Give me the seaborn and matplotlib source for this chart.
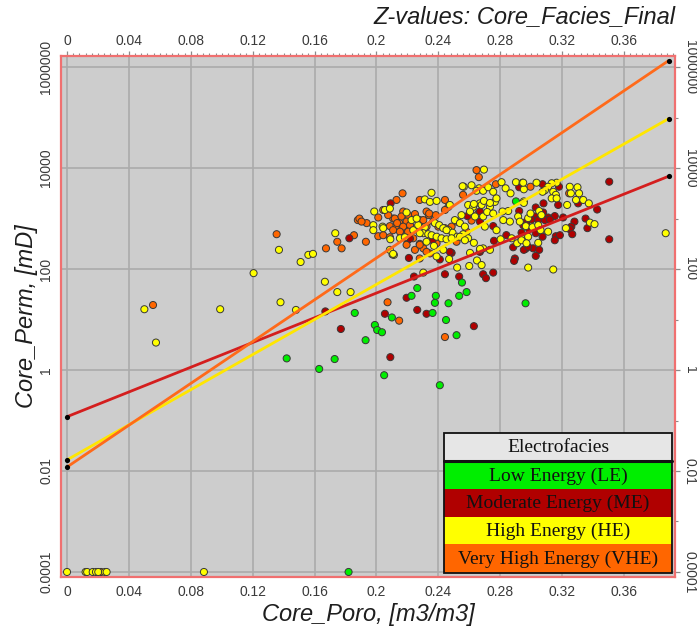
import numpy as np
import pandas as pd
import matplotlib
matplotlib.use("Agg")
import matplotlib.pyplot as plt
from matplotlib.patches import Rectangle
from matplotlib.ticker import FixedLocator, MultipleLocator, NullFormatter
import seaborn as sns

# ---------------- data: core porosity [m3/m3] and permeability [mD] by facies ----------------
le_poro = [0.142, 0.163, 0.173, 0.186, 0.193, 0.199, 0.2005, 0.2036, 0.205, 0.210,
           0.2227, 0.2264, 0.2363, 0.2378, 0.2384, 0.241, 0.245, 0.2466, 0.2518, 0.2535,
           0.2553, 0.2583, 0.2902, 0.2964, 0.182]
le_perm = [1.7, 1.05, 1.65, 13.5, 3.9, 7.8, 6.2, 5.6, 0.79, 11,
           29.5, 42, 13.5, 21.4, 29.5, 0.5, 9.8, 21, 4.9, 29.5,
           54, 35, 2190, 21, 0.0001]

me_poro = [0.167, 0.177, 0.2055, 0.209, 0.2195, 0.2264, 0.2324, 0.263, 0.221, 0.2243,
           0.241, 0.2443, 0.2486, 0.2535, 0.269, 0.2708, 0.2755, 0.2217, 0.1825, 0.2092,
           0.2475, 0.2588, 0.2669, 0.2669, 0.2755, 0.284, 0.276, 0.2884, 0.2964, 0.2938,
           0.2895, 0.289, 0.2953, 0.2669, 0.2923, 0.2923, 0.297, 0.2363,
           0.3505, 0.3505, 0.3427, 0.3352, 0.3364, 0.328, 0.326, 0.325, 0.3266, 0.3207,
           0.3304, 0.318, 0.3074, 0.3175, 0.308, 0.303,
           0.3024, 0.3078, 0.311, 0.3153, 0.297, 0.3003, 0.3046, 0.3089, 0.3121, 0.2949,
           0.2987, 0.303, 0.3074, 0.316, 0.3186, 0.3153, 0.3013, 0.3052, 0.303, 0.2981]
me_perm = [14.5, 6.5, 13, 1.8, 27, 15.5, 13, 7.4, 166, 71,
           155, 79, 209, 71, 79, 66, 85, 400, 407, 2000,
           219, 1120, 1380, 870, 710, 470, 363, 270, 251, 525,
           162, 145, 240, 219, 4170, 1410, 740, 372,
           5370, 389, 1510, 1000, 646, 870, 692, 617, 490, 1050,
           2000, 4270, 4790, 1860, 2000, 1660,
           1100, 1320, 1050, 1120, 870, 955, 933, 933, 955, 741,
           617, 513, 437, 447, 468, 372, 257, 240, 182, 275]

he_poro = [0.0, 0.012, 0.013, 0.0166, 0.0187, 0.0202, 0.0245, 0.0256, 0.0885,
           0.050, 0.0575, 0.099, 0.1206, 0.137, 0.138, 0.148, 0.151, 0.156, 0.159,
           0.1734, 0.1667, 0.1747, 0.1833, 0.387,
           0.1986, 0.2055, 0.2087, 0.198, 0.198, 0.204, 0.209, 0.2113, 0.2238, 0.227,
           0.2313, 0.2303, 0.2335, 0.2378, 0.2406, 0.2357, 0.2389, 0.2421, 0.2324, 0.2372,
           0.2432, 0.2466, 0.2492, 0.2522, 0.2561, 0.2507, 0.254, 0.2572, 0.2565, 0.2615,
           0.2664, 0.2593, 0.2625, 0.2669, 0.2605, 0.2637, 0.269, 0.2734, 0.2766, 0.2701,
           0.2776, 0.2593, 0.263, 0.269, 0.2669, 0.2734, 0.2605, 0.267, 0.2104, 0.2303,
           0.2522, 0.260, 0.265, 0.268, 0.247, 0.2356, 0.2313, 0.2346, 0.2389, 0.2475,
           0.263, 0.268, 0.2695, 0.2734, 0.2776, 0.2716, 0.2953, 0.2852, 0.2815, 0.2755,
           0.2695, 0.2557, 0.2647, 0.269, 0.2723, 0.2809, 0.2755, 0.2835, 0.2867, 0.2902,
           0.2945, 0.2953, 0.2195, 0.2227, 0.226, 0.2044, 0.2152, 0.2184, 0.2087, 0.228,
           0.2453, 0.2453, 0.2486, 0.254, 0.2572, 0.255, 0.2432, 0.2389, 0.2108, 0.282,
           0.2863, 0.2916, 0.2981, 0.2803, 0.2874, 0.291, 0.2938, 0.2981, 0.2981, 0.3143,
           0.325, 0.330, 0.3257, 0.331, 0.329, 0.3337, 0.3373, 0.338, 0.341, 0.3225,
           0.3233, 0.3165, 0.3133, 0.311, 0.3143, 0.316, 0.3035, 0.2949, 0.3089, 0.3074,
           0.3133, 0.3165, 0.2953, 0.2996, 0.3052, 0.3067, 0.2927, 0.2966, 0.3009, 0.3046,
           0.3061, 0.311, 0.2938, 0.297, 0.3046]
he_perm = [0.0001, 0.0001, 0.0001, 0.0001, 0.0001, 0.0001, 0.0001, 0.0001, 0.0001,
           16, 3.5, 16, 83, 240, 22, 15.5, 138, 191, 200,
           513, 56, 35, 35, 513,
           1380, 1480, 1580, 741, 589, 692, 389, 191, 589, 741,
           676, 513, 490, 813, 741, 468, 437, 407, 347, 288,
           646, 589, 525, 437, 490, 933, 813, 692, 4270, 4570,
           3980, 1860, 1700, 2000, 1380, 1100, 1100, 1700, 2140, 692,
           589, 407, 331, 257, 240, 240, 209, 251, 195, 85,
           107, 115, 148, 120, 158, 3240, 2400, 2140, 2240, 1860,
           1950, 1860, 2240, 2040, 2510, 1350, 2190, 1410, 1380, 1260,
           9330, 4370, 3550, 3550, 4170, 5250, 3390, 3980, 3160, 5250,
           5130, 3800, 1320, 933, 1000, 646, 407, 427, 240, 513,
           589, 389, 407, 437, 372, 1170, 240, 178, 200, 933,
           871, 1100, 1020, 389, 407, 324, 407, 437, 107, 98,
           4270, 4170, 3160, 3160, 2340, 2340, 2000, 832, 776, 646,
           1860, 5130, 5010, 4270, 3390, 2950, 5130, 5130, 3630, 3390,
           2510, 2510, 2040, 1260, 1410, 1170, 870, 708, 676, 741,
           589, 550, 372, 324, 331]

vhe_poro = [0.022, 0.0556, 0.1355, 0.1674, 0.1747, 0.1775, 0.1855, 0.1932, 0.188, 0.189,
            0.2072, 0.2147, 0.2443, 0.2169, 0.213, 0.228, 0.2443, 0.2465, 0.2173, 0.2205,
            0.2108, 0.214, 0.1937, 0.1904, 0.2012, 0.2087, 0.213, 0.2012, 0.2044, 0.2162,
            0.2195, 0.2147, 0.2178, 0.220, 0.2249, 0.228, 0.2324, 0.2339, 0.228, 0.2303,
            0.2346, 0.2384, 0.2443, 0.256, 0.2647, 0.2662, 0.2772, 0.2044, 0.2076, 0.2119,
            0.2162, 0.2195, 0.2134, 0.2173, 0.2217, 0.2108, 0.2152, 0.2205, 0.2087, 0.2205,
            0.2238, 0.2195, 0.2249, 0.228, 0.2303, 0.2341, 0.2324, 0.2367, 0.240, 0.2443,
            0.2486, 0.2518, 0.2583, 0.2615, 0.2658, 0.2518, 0.2389, 0.2324, 0.228, 0.2996,
            0.3246]
vhe_perm = [0.0001, 19.4, 490, 257, 347, 257, 468, 347, 933, 1000,
            22, 9.5, 4.5, 3160, 2340, 2340, 2340, 1700, 1380, 1170,
            1000, 933, 813, 871, 1050, 708, 708, 447, 468, 589,
            646, 832, 437, 372, 1230, 933, 1380, 1170, 316, 257,
            204, 1170, 1480, 2950, 9120, 6610, 4790, 1480, 1170, 1000,
            1100, 871, 813, 692, 741, 589, 550, 550, 427, 389,
            407, 302, 240, 302, 933, 1260, 692, 871, 692, 646,
            692, 871, 550, 912, 1260, 347, 324, 219, 162, 4270,
            3160]

# Per-facies exponential fits (perm at the two porosity end points)
fit_poro = [0.0, 0.389]
fit_me = [0.119, 6900]
fit_he = [0.0166, 95500]
fit_vhe = [0.012, 1350000]

facies_names = ["Low Energy (LE)", "Moderate Energy (ME)", "High Energy (HE)", "Very High Energy (VHE)"]
facies_colors = ["#00EE00", "#B00000", "#FFFF00", "#FF6600"]
line_colors = {"ME": "#D41E1E", "HE": "#FFE600", "VHE": "#FF6A1A"}

x_ticks = [0, 0.04, 0.08, 0.12, 0.16, 0.2, 0.24, 0.28, 0.32, 0.36]
x_labels = ["0", "0.04", "0.08", "0.12", "0.16", "0.2", "0.24", "0.28", "0.32", "0.36"]
y_ticks = [1e-4, 1e-2, 1, 1e2, 1e4, 1e6]
y_labels = ["0.0001", "0.01", "1", "100", "10000", "1000000"]

df = pd.concat([
    pd.DataFrame({"poro": vhe_poro, "perm": vhe_perm, "facies": "VHE"}),
    pd.DataFrame({"poro": me_poro, "perm": me_perm, "facies": "ME"}),
    pd.DataFrame({"poro": he_poro, "perm": he_perm, "facies": "HE"}),
    pd.DataFrame({"poro": le_poro, "perm": le_perm, "facies": "LE"}),
], ignore_index=True)
palette = {"LE": facies_colors[0], "ME": facies_colors[1], "HE": facies_colors[2], "VHE": facies_colors[3]}

# ---------------- figure ----------------
sns.set_style("white")
plt.rcParams["font.family"] = ["Liberation Sans", "DejaVu Sans"]

fig = plt.figure(figsize=(6.97, 6.27), dpi=100)
ax = fig.add_axes([0.0875, 0.0797, 0.8809, 0.8310])
ax.set_facecolor("#CDCDCD")

sns.scatterplot(data=df, x="poro", y="perm", hue="facies", palette=palette,
                s=26, edgecolor="#383838", linewidth=0.7, legend=False, ax=ax, zorder=3)

for key, vals in (("ME", fit_me), ("HE", fit_he), ("VHE", fit_vhe)):
    ax.plot(fit_poro, vals, color=line_colors[key], lw=2.0, zorder=4, solid_capstyle="butt")
    ax.scatter(fit_poro, vals, s=14, color="black", zorder=5, linewidths=0)

ax.set_yscale("log")
ax.set_xlim(-0.0039, 0.393)
ax.set_ylim(10 ** -4.1, 10 ** 6.22)

ax.set_xticks(x_ticks, x_labels)
ax.xaxis.set_minor_locator(MultipleLocator(0.004))
ax.set_yticks(y_ticks, y_labels)
ax.yaxis.set_minor_locator(FixedLocator([1e-3, 1e-1, 10, 1e3, 1e5]))
ax.yaxis.set_minor_formatter(NullFormatter())

ax.grid(True, which="major", color="#ABABAB", lw=1.2, zorder=0)
ax.set_axisbelow(True)

ax.tick_params(which="both", top=True, right=True, labeltop=True, labelright=True,
               direction="out", color="#8A8A8A", labelcolor="#3A3A3A", labelsize=10)
ax.tick_params(which="major", length=3.5, width=0.9, pad=2)
ax.tick_params(which="minor", length=2.2, width=0.8)

for t in ax.yaxis.get_major_ticks():
    t.label1.set_rotation(90)
    t.label1.set_va("center")
    t.label2.set_rotation(-90)
    t.label2.set_va("center")

for s in ax.spines.values():
    s.set_color("#F07070")
    s.set_linewidth(1.6)

ax.set_xlabel("Core_Poro, [m3/m3]", fontsize=17, fontstyle="italic", color="#1E1E1E", labelpad=3)
ax.set_ylabel("Core_Perm, [mD]", fontsize=17, fontstyle="italic", color="#1E1E1E", labelpad=1)
fig.text(0.9684, 1 - 17 / 627, "Z-values: Core_Facies_Final", ha="right", va="center",
         fontsize=17, fontstyle="italic", color="#1E1E1E")

# ---------------- facies key drawn as a table ----------------
tx0, tx1 = 0.6243, 0.9946
edges = [0.277, 0.2226, 0.1695, 0.1157, 0.0633, 0.0083]
cells = [("Electrofacies", "#E6E6E6")] + list(zip(facies_names, facies_colors))
for i, (label, col) in enumerate(cells):
    top, bot = edges[i], edges[i + 1]
    ax.add_patch(Rectangle((tx0, bot), tx1 - tx0, top - bot, transform=ax.transAxes,
                           facecolor=col, edgecolor="none", zorder=10, clip_on=False))
    ax.text((tx0 + tx1) / 2, (top + bot) / 2 - 0.002, label, transform=ax.transAxes,
            ha="center", va="center", fontsize=14, family="Liberation Serif",
            color="#111111", zorder=11)
ax.add_patch(Rectangle((tx0, edges[-1]), tx1 - tx0, edges[0] - edges[-1], transform=ax.transAxes,
                       facecolor="none", edgecolor="#111111", lw=1.3, zorder=12, clip_on=False))
ax.plot([tx0, tx1], [edges[1], edges[1]], transform=ax.transAxes, color="#111111",
        lw=2.2, zorder=12, clip_on=False)

fig.savefig("out.png", dpi=100, facecolor="white")
